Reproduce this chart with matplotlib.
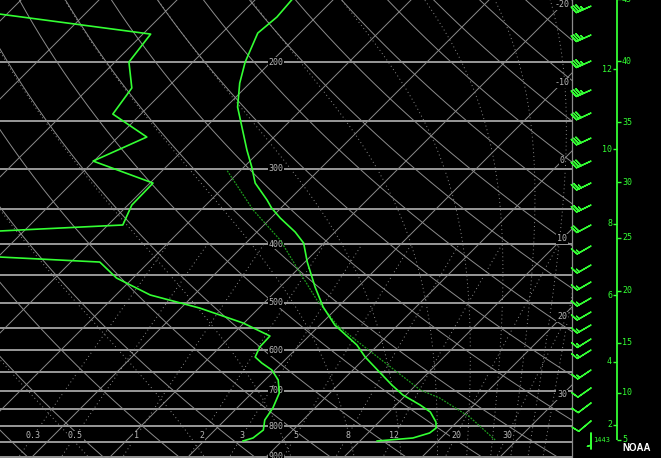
import numpy as np
import matplotlib
matplotlib.use("Agg")
import matplotlib.pyplot as plt
import matplotlib.transforms as mtransforms

# sounding values (hPa, deg C)
temp_p = [847.0, 837.3, 821.5, 806.0, 787.8, 758.4, 738.4, 710.8, 684.2, 658.7,
          615.1, 587.6, 544.5, 508.4, 471.1, 428.4, 398.5, 382.1, 362.3, 348.7,
          338.3, 317.1, 298.3, 279.6, 237.4, 216.7, 200.0, 179.1, 168.5, 157.9]
temp_c = [12.2, 16.4, 17.9, 18.1, 17.3, 15.3, 13.1, 9.6, 6.9, 4.4,
          -0.1, -2.7, -8.1, -11.9, -15.5, -19.7, -22.6, -25.1, -28.8, -31.2,
          -32.8, -36.5, -39.0, -41.8, -48.5, -51.3, -53.3, -55.4, -55.0, -55.3]

dwpt_p = [847.0, 837.3, 812.2, 781.8, 746.9, 705.4, 671.4, 646.3, 629.2, 615.1,
          592.1, 567.8, 540.4, 510.4, 485.7, 455.3, 428.4, 420.3, 400.0, 380.6,
          372.0, 344.8, 317.1, 291.6, 266.1, 243.8, 220.8, 200.0, 179.8, 166.6, 157.9]
dwpt_c = [-5.0, -4.1, -3.8, -4.9, -5.4, -6.5, -8.3, -10.4, -12.6, -14.2,
          -14.9, -15.0, -20.1, -27.6, -35.6, -42.1, -46.3, -59.7, -69.1, -63.1,
          -48.1, -49.5, -49.6, -60.1, -56.3, -63.6, -64.5, -68.2, -69.0, -90.9, -106.3]

parcel_p = [843.7, 773.0, 719.0, 697.4, 572.1, 544.5, 495.0, 446.7, 393.9, 351.4, 301.8]
parcel_c = [27.2, 21.0, 14.7, 11.2, -4.1, -7.8, -13.6, -19.2, -26.0, -33.3, -41.8]

# winds (hPa, direction deg, knots)
wind_p = [166.0, 185.3, 204.6, 228.5, 249.4, 274.4, 299.5, 325.6, 354.1, 382.1,
          413.9, 445.0, 474.7, 504.6, 532.2, 559.2, 589.8, 615.1, 663.7, 710.8,
          752.6, 806.0, 843.7]
wind_dir = [246, 246, 246, 246, 245, 245, 245, 244, 244, 242,
            240, 240, 240, 240, 240, 240, 238, 238, 236, 235,
            233, 230, 180]
wind_kt = [35, 35, 35, 35, 30, 30, 30, 25, 25, 20,
           15, 15, 15, 15, 15, 15, 15, 15, 15, 10,
           10, 10, 5]

# height scale
km_ticks = [2, 4, 6, 8, 10, 12]
km_press = [796.8, 626.8, 485.7, 370.6, 278.6, 205.4]
kft_ticks = [5, 10, 15, 20, 25, 30, 35, 40, 45]
kft_press = [843.7, 705.4, 583.1, 478.3, 390.9, 315.9, 251.3, 199.2, 157.3]
station_elev = "1443"

# background lines
isobars = np.arange(200, 901, 50)
isobar_labels = [200, 300, 400, 500, 600, 700, 800, 900]
isotherms = np.arange(-100, 50, 10)
isotherm_labels = [-20, -10, 0, 10, 20, 30]
theta_k = np.arange(230, 481, 10)
theta_e = np.arange(260, 461, 20)
mix_ratio = [0.3, 0.5, 1, 2, 3, 5, 8, 12, 20, 30]
mix_label_p = 830.9

p_bot, p_top = 903.6, 157.9
t_left, t_right = -33.97, 39.36

grid_col = '#8c8c8c'
bar_col = '#a4a4a4'
green = '#33ff33'

fig = plt.figure(figsize=(6.61, 4.58), dpi=100, facecolor='black')
ax = fig.add_axes([0, 0, 572 / 661, 1])
ax.set_facecolor('black')
ax.set_autoscale_on(False)
ax.set_yscale('log')
ax.set_ylim(p_bot, p_top)
ax.set_xlim(t_left, t_right)
ax.set_xticks([])
ax.set_yticks([])
ax.minorticks_off()
for side in ['left', 'top', 'bottom']:
    ax.spines[side].set_visible(False)
ax.spines['right'].set_color(grid_col)
ax.spines['right'].set_linewidth(0.9)

# 45 degree skew of the temperature axis
skew = ax.transData + mtransforms.Affine2D().skew_deg(45, 0)

pp = np.geomspace(p_bot + 5, p_top - 5, 200)

# isobars
ax.hlines(isobars, t_left, t_right, colors=bar_col, linewidth=1.3, zorder=1)

# isotherms
for t in isotherms:
    ax.plot([t, t], [p_bot + 5, p_top - 5], color=grid_col, lw=0.7, transform=skew, zorder=1)

# dry adiabats
for th in theta_k:
    ax.plot(th * (pp / 1000.0) ** 0.2857 - 273.15, pp, color=grid_col, lw=0.7,
            transform=skew, zorder=1)


# moist adiabats, one per equivalent potential temperature
def sat_vap(tc):
    return 6.112 * np.exp(17.67 * tc / (tc + 243.5))


def moist_rate(tk, p):
    es = sat_vap(tk - 273.15)
    rs = 0.622 * es / (p - es)
    num = 287.04 * tk + 2.501e6 * rs
    den = 1005.7 + 2.501e6 ** 2 * rs * 0.622 / (287.04 * tk ** 2)
    return num / den / p


tgrid = np.linspace(-60, 45, 3000) + 273.15
rgrid = 622.0 * sat_vap(tgrid - 273.15) / (1000.0 - sat_vap(tgrid - 273.15))
thegrid = tgrid * np.exp((3.376 / tgrid - 0.00254) * rgrid * (1 + 0.00081 * rgrid))
tk = np.interp(theta_e, thegrid, tgrid)

plev = np.geomspace(1000, 150, 300)
moist = [tk.copy()]
for i in range(len(plev) - 1):
    dp = plev[i + 1] - plev[i]
    k1 = moist_rate(tk, plev[i])
    k2 = moist_rate(tk + 0.5 * dp * k1, plev[i] + 0.5 * dp)
    k3 = moist_rate(tk + 0.5 * dp * k2, plev[i] + 0.5 * dp)
    k4 = moist_rate(tk + dp * k3, plev[i + 1])
    tk = tk + dp * (k1 + 2 * k2 + 2 * k3 + k4) / 6
    moist.append(tk.copy())
moist = np.array(moist) - 273.15
for j in range(len(theta_e)):
    ax.plot(moist[:, j], plev, color=grid_col, lw=0.7, ls=(0, (1, 3)),
            transform=skew, zorder=1)

# mixing ratio lines
pm = np.geomspace(p_bot + 5, 400, 100)
for w in mix_ratio:
    e = w * pm / (622.0 + w)
    a = np.log(e / 6.112)
    ax.plot(243.5 * a / (17.67 - a), pm, color=grid_col, lw=0.7, ls=(0, (1, 3)),
            transform=skew, zorder=1)
    e0 = w * mix_label_p / (622.0 + w)
    a0 = np.log(e0 / 6.112)
    ax.text(243.5 * a0 / (17.67 - a0), mix_label_p, f"{w:g}", transform=skew,
            color='#b8b8b8', fontsize=6, family='DejaVu Sans Mono',
            ha='center', va='center', zorder=3,
            bbox=dict(facecolor='black', edgecolor='none', pad=0.6))

# isobar labels
lab_tr = mtransforms.blended_transform_factory(ax.transAxes, ax.transData)
for p in isobar_labels:
    ax.text(276 / 572, p, str(p), transform=lab_tr, color='#b8b8b8', fontsize=6,
            family='DejaVu Sans Mono', ha='center', va='center', zorder=3,
            bbox=dict(facecolor='black', edgecolor='none', pad=0.6))

# isotherm labels, sitting on their line near the right edge
fig.canvas.draw()
inv = ax.transData.inverted()
for t in isotherm_labels:
    x0 = ax.transData.transform((t, p_bot))[0]
    p_lab = inv.transform((0, 562 - x0))[1]
    ax.text(t, p_lab, str(t), transform=skew, color='#b8b8b8', fontsize=6,
            family='DejaVu Sans Mono', ha='center', va='center', zorder=3,
            bbox=dict(facecolor='black', edgecolor='none', pad=0.6))

# sounding
ax.plot(temp_c, temp_p, color=green, lw=1.2, transform=skew, zorder=5)
ax.plot(dwpt_c, dwpt_p, color=green, lw=1.2, transform=skew, zorder=5)
ax.plot(parcel_c, parcel_p, color='#1c9c1c', lw=0.9, ls=(0, (1.5, 1)),
        transform=skew, zorder=4)

# right panel: wind barbs and height scale
ax2 = fig.add_axes([572 / 661, 0, 89 / 661, 1])
ax2.set_facecolor('black')
ax2.set_autoscale_on(False)
ax2.set_yscale('log')
ax2.set_ylim(p_bot, p_top)
ax2.set_xlim(572, 661)
ax2.axis('off')

wd = np.deg2rad(wind_dir)
u = -np.array(wind_kt) * np.sin(wd)
v = -np.array(wind_kt) * np.cos(wd)
ax2.barbs(np.full(len(wind_p), 591), wind_p, u, v, length=4.8, color=green,
          linewidth=1.0, sizes=dict(height=0.45, spacing=0.16, width=0.3),
          transform=ax2.transData + mtransforms.Affine2D().translate(0, 7),
          clip_on=False, zorder=6)

ax2.vlines(617, kft_press[0], p_top, colors=green, linewidth=1.3)
ax2.hlines(km_press, 613, 617, colors=green, linewidth=1.0)
ax2.hlines(kft_press, 617, 621, colors=green, linewidth=1.0)
for h, p in zip(km_ticks, km_press):
    ax2.text(612, p, str(h), color=green, fontsize=6, family='DejaVu Sans Mono',
             ha='right', va='center')
for h, p in zip(kft_ticks, kft_press):
    ax2.text(622, p, str(h), color=green, fontsize=6, family='DejaVu Sans Mono',
             ha='left', va='center')
ax2.text(593, kft_press[0], station_elev, color=green, fontsize=5,
         family='DejaVu Sans Mono', ha='left', va='center')
ax2.text(637, 0.01, "NOAA", transform=mtransforms.blended_transform_factory(ax2.transData, ax2.transAxes),
         color='white', fontsize=7, fontweight='bold', family='Liberation Sans',
         ha='center', va='bottom')

fig.savefig("out.png", dpi=100, facecolor='black')
